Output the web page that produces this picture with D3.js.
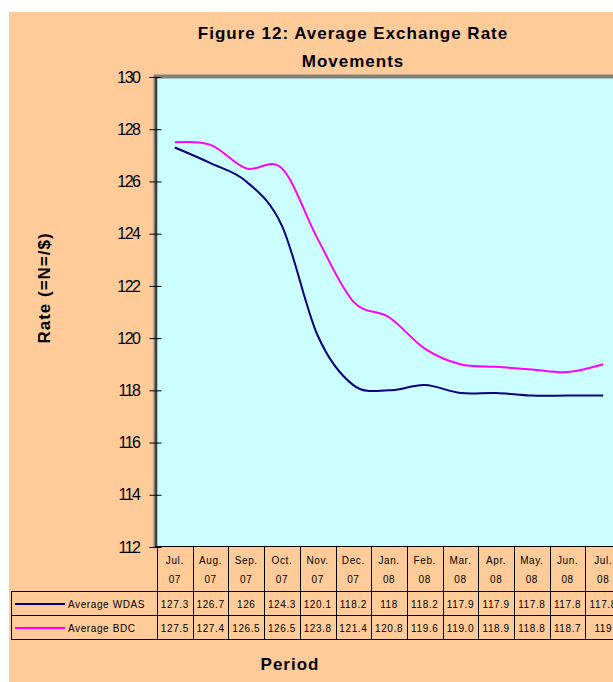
<!DOCTYPE html>
<html>
<head>
<meta charset="utf-8">
<script src="https://cdn.jsdelivr.net/npm/d3@7"></script>
<style>
  body { margin: 0; background: #fff; }
  text { font-family: "Liberation Sans", Arial, sans-serif; fill: #000; }
  .title { font-size: 17px; font-weight: bold; letter-spacing: 1px; }
  .tick text { font-size: 16px; letter-spacing: -1.5px; }
  .cell { font-size: 10px; letter-spacing: 0.6px; }
</style>
</head>
<body>
<div id="chart"></div>
<script>
// data
var months = ["Jul.", "Aug.", "Sep.", "Oct.", "Nov.", "Dec.", "Jan.", "Feb.", "Mar.", "Apr.", "May.", "Jun.", "Jul."];
var years = ["07", "07", "07", "07", "07", "07", "08", "08", "08", "08", "08", "08", "08"];
var wdasText = ["127.3", "126.7", "126", "124.3", "120.1", "118.2", "118", "118.2", "117.9", "117.9", "117.8", "117.8", "117.8"];
var bdcText = ["127.5", "127.4", "126.5", "126.5", "123.8", "121.4", "120.8", "119.6", "119.0", "118.9", "118.8", "118.7", "119"];
var yTicks = [112, 114, 116, 118, 120, 122, 124, 126, 128, 130];

var series = [
  { name: "Average WDAS", text: wdasText, color: "#000080" },
  { name: "Average BDC", text: bdcText, color: "#ff00ff" }
];

var svgWidth = 613;
var svgHeight = 682;

var plot = { left: 157, top: 77, bottom: 547 };
var colW = 35.7;
plot.right = plot.left + colW * months.length;

var svg = d3.select("#chart")
  .append("svg")
  .attr("width", svgWidth)
  .attr("height", svgHeight);

// orange chart area
svg.append("rect")
  .attr("x", 9).attr("y", 12)
  .attr("width", svgWidth - 9).attr("height", svgHeight - 12)
  .attr("fill", "#ffcc99");

// scales
var idx = months.map((m, i) => i);
var xScale = d3.scaleBand()
  .domain(idx)
  .range([plot.left, plot.right]);

var yScale = d3.scaleLinear()
  .domain([112, 130])
  .range([plot.bottom, plot.top]);

// plot area
svg.append("rect")
  .attr("x", plot.left).attr("y", plot.top)
  .attr("width", plot.right - plot.left).attr("height", plot.bottom - plot.top)
  .attr("fill", "#ccffff");

// gray border top and left
svg.append("path")
  .attr("d", `M${plot.right},${plot.top - 0.5}H${plot.left - 1.5}V${plot.bottom}`)
  .attr("fill", "none")
  .attr("stroke", "#808080")
  .attr("stroke-width", 4);

// y axis with labels (outer ticks)
var yAxis = svg.append("g")
  .attr("transform", `translate(${plot.left - 1.5},0)`)
  .call(d3.axisLeft(yScale).tickValues(yTicks).tickSize(6).tickPadding(10).tickFormat(d3.format("d")));
yAxis.select(".domain").attr("stroke", "#000").attr("stroke-width", 1);

// inner half of the cross ticks
svg.append("g")
  .attr("transform", `translate(${plot.left - 1.5},0)`)
  .call(d3.axisRight(yScale).tickValues(yTicks).tickSize(6).tickFormat(""))
  .select(".domain").remove();

// x axis line
svg.append("line")
  .attr("x1", plot.left - 2).attr("x2", plot.right)
  .attr("y1", plot.bottom - 0.5).attr("y2", plot.bottom - 0.5)
  .attr("stroke", "#000");

// lines
var line = d3.line()
  .x((d, i) => xScale(i) + xScale.bandwidth() / 2)
  .y(d => yScale(d))
  .curve(d3.curveCardinal.tension(0));

series.forEach(function(s) {
  svg.append("path")
    .datum(s.text.map(Number))
    .attr("d", line)
    .attr("fill", "none")
    .attr("stroke", s.color)
    .attr("stroke-width", 2);
});

// data table
var rowTop = 591;
var rowH = 24;
var tableLeft = 11;
var grid = svg.append("g").attr("stroke", "#000").attr("stroke-width", 1);

idx.concat([months.length]).forEach(function(i) {
  var x = Math.round(plot.left + i * colW) + 0.5;
  grid.append("line")
    .attr("x1", x).attr("x2", x)
    .attr("y1", plot.bottom).attr("y2", rowTop + rowH * 2);
});
[0, 1, 2].forEach(function(r) {
  var y = rowTop + r * rowH + 0.5;
  grid.append("line")
    .attr("x1", tableLeft).attr("x2", plot.right)
    .attr("y1", y).attr("y2", y);
});
grid.append("line")
  .attr("x1", tableLeft + 0.5).attr("x2", tableLeft + 0.5)
  .attr("y1", rowTop).attr("y2", rowTop + rowH * 2);

// header labels
svg.append("g").selectAll("text")
  .data(months)
  .enter()
  .append("text")
  .attr("class", "cell")
  .attr("x", (d, i) => xScale(i) + xScale.bandwidth() / 2)
  .attr("y", 564)
  .attr("text-anchor", "middle")
  .text(d => d);

svg.append("g").selectAll("text")
  .data(years)
  .enter()
  .append("text")
  .attr("class", "cell")
  .attr("x", (d, i) => xScale(i) + xScale.bandwidth() / 2)
  .attr("y", 583)
  .attr("text-anchor", "middle")
  .text(d => d);

// value rows with legend keys
series.forEach(function(s, r) {
  var yMid = rowTop + r * rowH + rowH / 2 + 1;
  svg.append("g").selectAll("text")
    .data(s.text)
    .enter()
    .append("text")
    .attr("class", "cell")
    .attr("x", (d, i) => xScale(i) + xScale.bandwidth() / 2)
    .attr("y", yMid + 3.5)
    .attr("text-anchor", "middle")
    .text(d => d);

  svg.append("line")
    .attr("x1", 15).attr("x2", 65)
    .attr("y1", yMid).attr("y2", yMid)
    .attr("stroke", s.color)
    .attr("stroke-width", 2);

  svg.append("text")
    .attr("class", "cell")
    .attr("x", 68)
    .attr("y", yMid + 3.5)
    .text(s.name);
});

// titles
svg.append("text")
  .attr("class", "title")
  .attr("x", 353).attr("y", 39)
  .attr("text-anchor", "middle")
  .text("Figure 12: Average Exchange Rate");

svg.append("text")
  .attr("class", "title")
  .attr("x", 353).attr("y", 67)
  .attr("text-anchor", "middle")
  .text("Movements");

svg.append("text")
  .attr("class", "title")
  .attr("x", 290).attr("y", 670)
  .attr("text-anchor", "middle")
  .text("Period");

svg.append("text")
  .attr("class", "title")
  .attr("transform", "translate(50,288) rotate(-90)")
  .attr("text-anchor", "middle")
  .text("Rate (=N=/$)");
</script>
</body>
</html>
